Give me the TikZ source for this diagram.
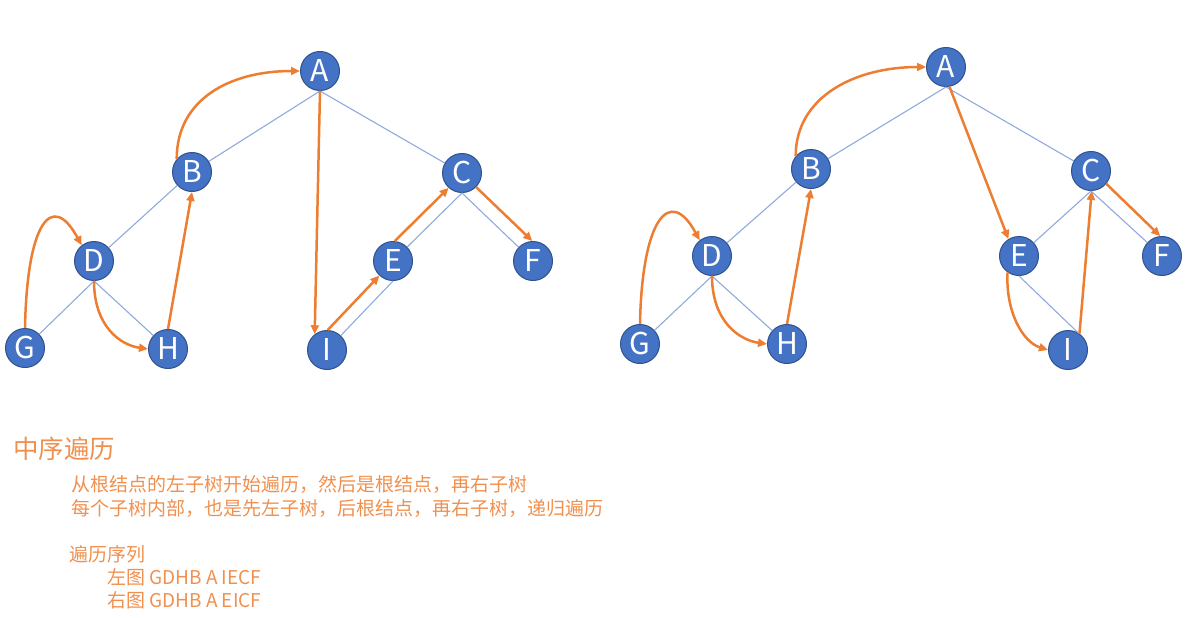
\documentclass[tikz,border=0pt]{standalone}
\usepackage{fontspec}
\newfontfamily\cjk{Noto Sans CJK SC}
\usetikzlibrary{arrows.meta}

\definecolor{nodeblue}{HTML}{4472C4}
\definecolor{nodeline}{HTML}{2F528F}
\definecolor{edgeblue}{HTML}{8FAADC}
\definecolor{trail}{HTML}{ED7D31}
\definecolor{notetext}{HTML}{F0904F}

\begin{document}
\begin{tikzpicture}[x=1pt, y=-1pt,
    vertex/.style={circle, fill=nodeblue, draw=nodeline, line width=1pt, minimum size=39pt, inner sep=0pt, text=white, font=\cjk\fontsize{30}{30}\selectfont},
    branch/.style={draw=edgeblue, line width=1.1pt},
    walk/.style={draw=trail, line width=2.5pt, -{Triangle[length=9pt, width=8pt]}},
    note/.style={anchor=west, inner sep=0pt, text=notetext, font=\cjk\fontsize{19}{19}\selectfont},
    heading/.style={note, font=\cjk\fontsize{25.5}{25.5}\selectfont}]

    \useasboundingbox (0,0) rectangle (1192,618);

    %% Left tree

    % Nodes
    \node[vertex] (lA) at (320,71) {A};
    \node[vertex] (lB) at (192,172) {B};
    \node[vertex] (lC) at (462,173) {C};
    \node[vertex] (lD) at (94,261) {D};
    \node[vertex] (lE) at (393,261) {E};
    \node[vertex] (lF) at (533,261) {F};
    \node[vertex] (lG) at (25,348) {G};
    \node[vertex] (lH) at (168,349) {H};
    \node[vertex] (lI) at (327,350) {I};

    % Branches
    \draw[branch] (lA.south) -- (lB);
    \draw[branch] (lA.south) -- (lC);
    \draw[branch] (lB) -- (lD);
    \draw[branch] (lD.south) -- (lG);
    \draw[branch] (lD.south) -- (lH);
    \draw[branch] (lC.south) -- (lE);
    \draw[branch] (lC.south) -- (lF);
    \draw[branch] (lE.south) -- (lI);

    % Traversal G D H B A I E C F
    \draw[walk] (lG.north) .. controls +(2,-105) and +(-30,-55) .. (lD.128);
    \draw[walk] (lD.south) .. controls +(0,45) and +(-28,-4) .. (lH.west);
    \draw[walk] (lH.north) -- (lB.south);
    \draw[walk] (lB.140) .. controls +(0,-60) and +(-70,0) .. (lA.west);
    \draw[walk] (lA.south) -- (lI.128);
    \draw[walk] (lI.88) -- (lE.227);
    \draw[walk] (lE.85) -- (lC.228);
    \draw[walk] (lC.-45) -- (lF.92);

    %% Right tree

    % Nodes
    \node[vertex] (rA) at (946,67) {A};
    \node[vertex] (rB) at (811,169) {B};
    \node[vertex] (rC) at (1091,171) {C};
    \node[vertex] (rD) at (712,256) {D};
    \node[vertex] (rE) at (1019,256) {E};
    \node[vertex] (rF) at (1162,256) {F};
    \node[vertex] (rG) at (640,344) {G};
    \node[vertex] (rH) at (787,344) {H};
    \node[vertex] (rI) at (1068,350) {I};

    % Branches
    \draw[branch] (rA.south) -- (rB);
    \draw[branch] (rA.south) -- (rC);
    \draw[branch] (rB) -- (rD);
    \draw[branch] (rD.south) -- (rG);
    \draw[branch] (rD.south) -- (rH);
    \draw[branch] (rC.south) -- (rE);
    \draw[branch] (rC.south) -- (rF);
    \draw[branch] (rE.south) -- (rI.60);

    % Traversal G D H B A E I C F
    \draw[walk] (rG.north) .. controls +(2,-105) and +(-30,-55) .. (rD.128);
    \draw[walk] (rD.south) .. controls +(0,45) and +(-28,-4) .. (rH.west);
    \draw[walk] (rH.north) -- (rB.south);
    \draw[walk] (rB.140) .. controls +(0,-60) and +(-70,0) .. (rA.west);
    \draw[walk] (rA.-80) -- (rE.122);
    \draw[walk] (rE.235) .. controls +(-2,40) and +(-25,-8) .. (rI.west);
    \draw[walk] (rI.55) -- (rC.-88);
    \draw[walk] (rC.-40) -- (rF.95);

    %% Notes
    \node[heading] (title) at (13,449) {中序遍历};
    \node[note] (ruleone) at (71,484) {从根结点的左子树开始遍历，然后是根结点，再右子树};
    \node[note] (ruletwo) at (71,508) {每个子树内部，也是先左子树，后根结点，再右子树，递归遍历};
    \node[note] (seqhead) at (69,554) {遍历序列};
    \node[note] (seqleft) at (107,577) {左图 GDHB A IECF};
    \node[note] (seqright) at (107,600) {右图 GDHB A EICF};

\end{tikzpicture}
\end{document}
